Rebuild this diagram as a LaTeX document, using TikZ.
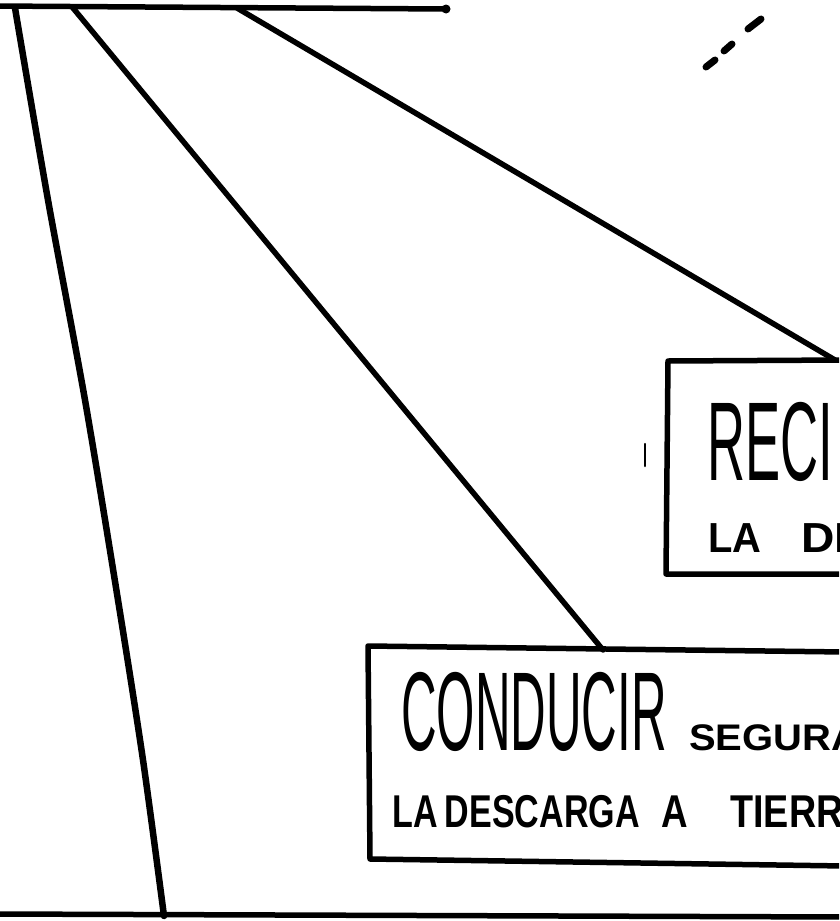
\documentclass[tikz,border=0pt]{standalone}
\usepackage{fontspec}
\newfontfamily\handfont{Liberation Sans}
\begin{document}
\begin{tikzpicture}[x=1pt,y=-1pt,
  stroke/.style={line width=5.5pt,line cap=round,line join=round},
  thinstroke/.style={line width=2.5pt,line cap=round},
  dashmark/.style={line width=7pt,line cap=round},
  bigword/.style={inner sep=0pt,anchor=base west,font=\handfont\fontsize{112}{112}\selectfont},
  smallword/.style={inner sep=0pt,anchor=base west,font=\handfont\bfseries\fontsize{46}{46}\selectfont},
  midword/.style={inner sep=0pt,anchor=base west,font=\handfont\bfseries\fontsize{42}{42}\selectfont}]
\useasboundingbox (0,0) rectangle (839,921);
\clip (0,0) rectangle (839,921);
% coordinates of the top bar
\coordinate (barL) at (-5,6);
\coordinate (barR) at (446,9);
\coordinate (s1) at (15,8);
\coordinate (s2) at (73,8);
\coordinate (s3) at (237,8);
% box corners
\coordinate (rtl) at (668,361);
\coordinate (rtr) at (845,360);
\coordinate (rbl) at (666,574);
\coordinate (rbr) at (845,574);
\coordinate (ctl) at (368,646);
\coordinate (ctr) at (845,652);
\coordinate (cbl) at (370,859);
\coordinate (cbr) at (845,866);
\coordinate (ground1) at (-5,914);
\coordinate (ground2) at (845,917);
\coordinate (c2end) at (603,650);
\coordinate (c3end) at (835,360);
\coordinate (c1end) at (164,916);
% top bar
\draw[stroke] (barL) -- (barR);
\fill (barR) circle (4.5);
% ground line
\draw[stroke] (ground1) -- (ground2);
% connectors
\draw[stroke,line width=6.5pt] plot[smooth] coordinates {(s1) (48,200) (85,400) (118,600) (143,760) (c1end)};
\draw[stroke] (s2) -- (c2end);
\draw[stroke] (s3) -- (c3end);
% boxes
\draw[stroke] (rtr) -- (rtl) -- (rbl) -- (rbr);
\draw[stroke] (ctr) -- (ctl) -- (cbl) -- (cbr);
% dashed mark top right
\draw[dashmark] (706,67) -- (715,60);
\draw[dashmark] (724,51) -- (732,44);
\draw[dashmark] (748,29) -- (761,19);
% small tick
\draw[thinstroke] (645,444) -- (645,466);
% texts
\node[bigword] (reci) at (707,480) {\scalebox{0.47}[1]{RECI}};
\node[midword] (lade) at (708,552) {\scalebox{0.95}[1]{LA}\hspace{40pt}\scalebox{1.1}[1]{DE}};
\node[bigword] (conducir) at (401,750) {\scalebox{0.44}[1]{CONDUCIR}};
\node[midword] (segura) at (689,750) {\scalebox{1.08}[1]{\fontsize{37}{37}\selectfont SEGURA}};
\node[smallword] (descarga) at (392,827) {\scalebox{0.74}[1]{LA\hspace{10pt}DESCARGA}\hspace{22pt}\scalebox{0.8}[1]{A}\hspace{42pt}\scalebox{0.82}[1]{TIERR}};
\end{tikzpicture}
\end{document}
